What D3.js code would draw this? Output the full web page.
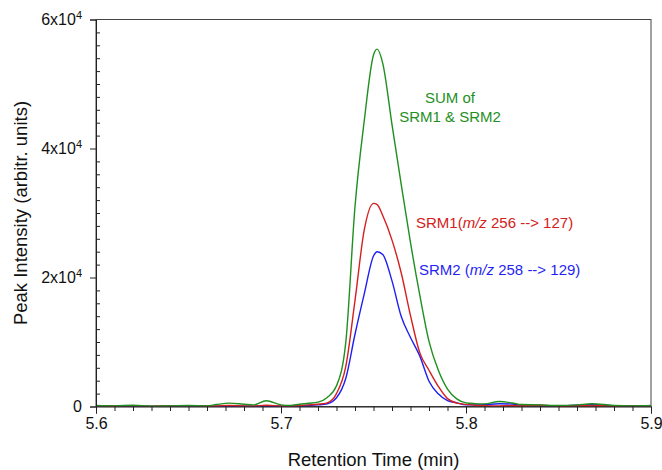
<!DOCTYPE html>
<html>
<head>
<meta charset="utf-8">
<script src="https://cdn.jsdelivr.net/npm/d3@7"></script>
<style>
  html, body { margin: 0; padding: 0; background: #fff; }
  svg { display: block; font-family: Arial, "Liberation Sans", sans-serif; }
</style>
</head>
<body>
<svg id="chart" width="662" height="470"></svg>
<script>
// ---- data ----
const times = [5.600, 5.610, 5.620, 5.630, 5.640, 5.650, 5.660, 5.665, 5.672, 5.680, 5.685, 5.692,
  5.700, 5.705, 5.710, 5.715, 5.720, 5.725, 5.730, 5.735, 5.740, 5.745, 5.750, 5.752, 5.755,
  5.760, 5.765, 5.770, 5.775, 5.780, 5.785, 5.790, 5.795, 5.800, 5.805, 5.810, 5.818, 5.825,
  5.830, 5.840, 5.850, 5.860, 5.868, 5.875, 5.880, 5.890, 5.900];
const sumValues = [150, 100, 200, 60, 100, 150, 100, 300, 520, 350, 250, 880,
  250, 150, 350, 500, 680, 1410, 3200, 9900, 31000, 44300, 54500, 55400, 53200,
  43700, 34400, 25400, 17300, 10100, 5640, 2700, 1190, 570, 450, 400, 780, 550,
  300, 250, 150, 250, 420, 300, 150, 100, 150];
const srm1Values = [100, 80, 120, 60, 100, 120, 60, 80, 150, 100, 80, 200,
  80, 60, 150, 250, 350, 570, 2000, 6180, 16450, 27370, 31500, 31300, 29600,
  25800, 20700, 14100, 8350, 5620, 3130, 1220, 530, 330, 200, 150, 100, 150,
  100, 200, 80, 100, 120, 100, 80, 100, 120];
const srm2Values = [60, 50, 80, 40, 60, 80, 50, 60, 80, 60, 50, 100,
  60, 50, 100, 150, 250, 420, 1350, 4350, 11200, 17460, 23340, 24000, 23570,
  19470, 13940, 10700, 7850, 3920, 1970, 900, 570, 260, 250, 300, 420, 380,
  200, 150, 100, 200, 300, 200, 100, 80, 100];
const xTickValues = [5.6, 5.7, 5.8, 5.9];
const yTickValues = [0, 20000, 40000, 60000];
const yTickMantissa = ["0", "2x10", "4x10", "6x10"];
const seriesNames = ["SUM", "SRM1", "SRM2"];
const seriesColors = ["#1f8f1f", "#d42020", "#1f1ff2"];

// ---- layout ----
const svg = d3.select("#chart");
const L = 96, R = 651, T = 19.5, B = 406.5;
const x = d3.scaleLinear().domain([5.6, 5.9]).range([L, R]);
const y = d3.scaleLinear().domain([0, 60000]).range([B, T]);
const axisColor = "#222";
const FONT = "Arial, 'Liberation Sans', sans-serif";

// frame
svg.append("rect").attr("x", L).attr("y", T).attr("width", R - L).attr("height", B - T)
  .attr("fill", "none").attr("stroke", "#444").attr("stroke-width", 1);

// lines
const line = d3.line().curve(d3.curveMonotoneX);
const allSeries = [sumValues, srm1Values, srm2Values];
[2, 1, 0].forEach(i => {
  const pts = times.map((t, j) => [x(t), y(allSeries[i][j])]);
  svg.append("path").attr("d", line(pts)).attr("fill", "none")
    .attr("stroke", seriesColors[i]).attr("stroke-width", 1.4)
    .attr("stroke-linejoin", "round");
});

// x axis: minor ticks
const xMinor = d3.range(0, 31).map(i => 5.6 + i * 0.01).filter(v => Math.abs(v * 10 - Math.round(v * 10)) > 1e-6);
svg.append("g").attr("transform", `translate(0,${B})`)
  .call(d3.axisBottom(x).tickValues(xMinor).tickSize(4.5).tickFormat(""))
  .call(g => g.select(".domain").remove())
  .call(g => g.selectAll("line").attr("stroke", axisColor));
// x axis: major ticks
svg.append("g").attr("transform", `translate(0,${B})`)
  .call(d3.axisBottom(x).tickValues(xTickValues).tickSize(7).tickPadding(4).tickFormat(d3.format(".1f")))
  .call(g => g.select(".domain").attr("stroke", axisColor))
  .call(g => g.selectAll("line").attr("stroke", axisColor))
  .call(g => g.selectAll("text").attr("font-size", 16).attr("fill", "#111").attr("font-family", FONT));

// y axis: minor ticks (inside)
const yMinor = d3.range(0, 31).map(i => i * 2000).filter(v => v % 20000 !== 0);
svg.append("g").attr("transform", `translate(${L},0)`)
  .call(d3.axisRight(y).tickValues(yMinor).tickSize(4).tickFormat(""))
  .call(g => g.select(".domain").remove())
  .call(g => g.selectAll("line").attr("stroke", axisColor));
// y axis: major ticks
const yAx = svg.append("g").attr("transform", `translate(${L},0)`)
  .call(d3.axisLeft(y).tickValues(yTickValues).tickSize(6).tickPadding(8).tickFormat(""))
  .call(g => g.select(".domain").attr("stroke", axisColor))
  .call(g => g.selectAll("line").attr("stroke", axisColor));
yAx.selectAll(".tick text").each(function(d, i) {
  const t = d3.select(this).attr("font-size", 16).attr("fill", "#111").attr("font-family", FONT);
  t.text(null);
  t.append("tspan").text(yTickMantissa[i]);
  if (d !== 0) t.append("tspan").attr("font-size", 11).attr("dy", "-0.55em").text("4");
});

// axis titles
svg.append("text").attr("x", (L + R) / 2).attr("y", 466).attr("text-anchor", "middle")
  .attr("font-size", 18.5).attr("fill", "#111").text("Retention Time (min)");
svg.append("text").attr("transform", `translate(27,${(T + B) / 2}) rotate(-90)`)
  .attr("text-anchor", "middle").attr("font-size", 18.5).attr("fill", "#111")
  .text("Peak Intensity (arbitr. units)");

// annotations
const ann = svg.append("g").attr("font-size", 15);
ann.append("text").attr("x", 450).attr("y", 103).attr("text-anchor", "middle")
  .attr("fill", seriesColors[0]).text("SUM of");
ann.append("text").attr("x", 450).attr("y", 122).attr("text-anchor", "middle")
  .attr("fill", seriesColors[0]).text("SRM1 & SRM2");
const t1 = ann.append("text").attr("x", 416).attr("y", 228).attr("fill", seriesColors[1]);
t1.append("tspan").text("SRM1(");
t1.append("tspan").attr("font-style", "italic").text("m/z");
t1.append("tspan").text(" 256 --> 127)");
const t2 = ann.append("text").attr("x", 419).attr("y", 275).attr("fill", seriesColors[2]);
t2.append("tspan").text("SRM2 (");
t2.append("tspan").attr("font-style", "italic").text("m/z");
t2.append("tspan").text(" 258 --> 129)");
</script>
</body>
</html>
